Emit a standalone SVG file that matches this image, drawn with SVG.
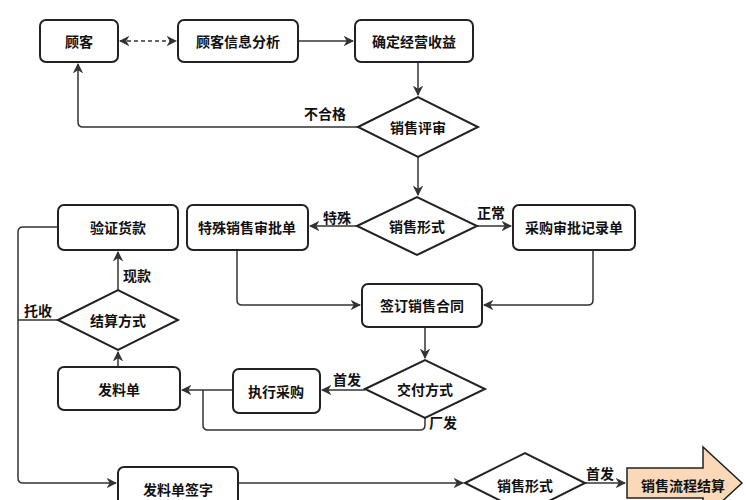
<svg xmlns="http://www.w3.org/2000/svg" width="746" height="500" viewBox="0 0 746 500">
<style>
.b{fill:#fff;stroke:#222;stroke-width:2}
.t{font-family:"Noto Sans CJK SC",sans-serif;font-size:14px;font-weight:bold;fill:#111;text-anchor:middle;dominant-baseline:central}
.c{fill:none;stroke:#333;stroke-width:1.5}
</style>
<defs><marker id="a" viewBox="0 0 10 10" refX="9" refY="5" markerWidth="7" markerHeight="7" orient="auto-start-reverse"><path d="M0,0L10,5L0,10L3,5z" fill="#333"/></marker></defs>
<rect width="746" height="500" fill="#fff"/>
<g id="connectors">
<path class="c" d="M120,41H176" stroke-dasharray="4,3" marker-start="url(#a)" marker-end="url(#a)"/>
<path class="c" d="M298,41H353" marker-end="url(#a)"/>
<path class="c" d="M418,62V95" marker-end="url(#a)"/>
<path class="c" d="M358,127H83Q78,127 78,122V64" marker-end="url(#a)"/>
<path class="c" d="M418,157V195" marker-end="url(#a)"/>
<path class="c" d="M357,226H310" marker-end="url(#a)"/>
<path class="c" d="M477,226H511" marker-end="url(#a)"/>
<path class="c" d="M237,250V300Q237,305 242,305H360" marker-end="url(#a)"/>
<path class="c" d="M593,250V300Q593,305 588,305H484" marker-end="url(#a)"/>
<path class="c" d="M425,327V358" marker-end="url(#a)"/>
<path class="c" d="M365,390H322" marker-end="url(#a)"/>
<path class="c" d="M233,390H182" marker-end="url(#a)"/>
<path class="c" d="M425,417V425Q425,430 420,430H208Q203,430 203,425V390"/>
<path class="c" d="M118,367V352" marker-end="url(#a)"/>
<path class="c" d="M118,290V252" marker-end="url(#a)"/>
<path class="c" d="M58,227H23Q18,227 18,232V478Q18,483 23,483H116" marker-end="url(#a)"/>
<path class="c" d="M58,320H18"/>
<path class="c" d="M238,483H463" marker-end="url(#a)"/>
<path class="c" d="M585,483H625" marker-end="url(#a)"/>
</g>
<g id="n1"><rect class="b" x="40" y="20" width="78" height="42" rx="6"/><text class="t" x="79" y="41">顾客</text></g>
<g id="n2"><rect class="b" x="178" y="20" width="120" height="42" rx="6"/><text class="t" x="238" y="41">顾客信息分析</text></g>
<g id="n3"><rect class="b" x="355" y="20" width="118" height="42" rx="6"/><text class="t" x="414" y="41">确定经营收益</text></g>
<g id="d1"><path class="b" d="M358,127L418,97L478,127L418,157Z"/><text class="t" x="418" y="127">销售评审</text></g>
<g id="d2"><path class="b" d="M357,226L417,197L477,226L417,255Z"/><text class="t" x="417" y="226">销售形式</text></g>
<g id="n4"><rect class="b" x="187" y="205" width="121" height="45" rx="6"/><text class="t" x="247" y="227">特殊销售审批单</text></g>
<g id="n5"><rect class="b" x="513" y="205" width="122" height="45" rx="6"/><text class="t" x="574" y="227">采购审批记录单</text></g>
<g id="n6"><rect class="b" x="362" y="284" width="120" height="43" rx="6"/><text class="t" x="422" y="305">签订销售合同</text></g>
<g id="d3"><path class="b" d="M365,389L425,360L485,389L425,418Z"/><text class="t" x="425" y="389">交付方式</text></g>
<g id="n7"><rect class="b" x="233" y="369" width="87" height="44" rx="6"/><text class="t" x="276" y="391">执行采购</text></g>
<g id="n8"><rect class="b" x="58" y="367" width="122" height="43" rx="6"/><text class="t" x="119" y="389">发料单</text></g>
<g id="d4"><path class="b" d="M58,320L118,290L178,320L118,350Z"/><text class="t" x="118" y="320">结算方式</text></g>
<g id="n9"><rect class="b" x="58" y="205" width="120" height="45" rx="6"/><text class="t" x="118" y="227">验证货款</text></g>
<g id="n10"><rect class="b" x="118" y="467" width="120" height="45" rx="6"/><text class="t" x="178" y="489">发料单签字</text></g>
<g id="d5"><path class="b" d="M465,483L525,453L585,483L525,513Z"/><text class="t" x="525" y="485">销售形式</text></g>
<g id="end"><path d="M627,468H703V447L742,483L703,519V498H627Z" fill="#fbd9b8" stroke="#222" stroke-width="1.5"/><text class="t" x="683" y="485">销售流程结算</text></g>
<g id="labels">
<text class="t" x="325" y="113">不合格</text>
<text class="t" x="337" y="217">特殊</text>
<text class="t" x="491" y="212">正常</text>
<text class="t" x="347" y="379">首发</text>
<text class="t" x="443" y="422">厂发</text>
<text class="t" x="137" y="275">现款</text>
<text class="t" x="38" y="310">托收</text>
<text class="t" x="600" y="473">首发</text>
</g>
</svg>
